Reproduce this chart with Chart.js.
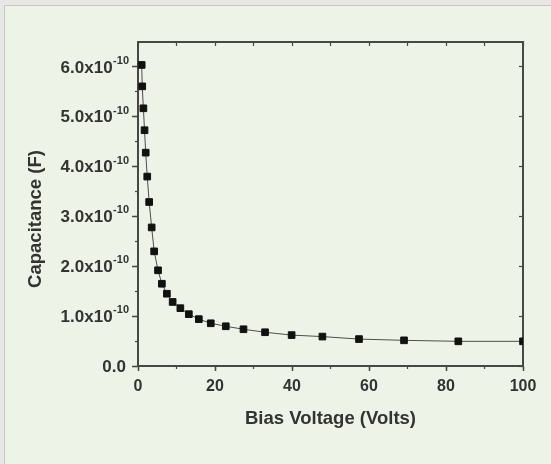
<!DOCTYPE html>
<html>
<head>
<meta charset="utf-8">
<script src="https://cdn.jsdelivr.net/npm/chart.js@4/dist/chart.umd.min.js"></script>
<style>
  html, body { margin: 0; padding: 0; background: #e7e8e5; overflow: hidden; }
  #panel {
    position: absolute; left: 4px; top: 5px; width: 547px; height: 459px;
    background: #eef3e7; border-left: 1px solid #c6c8c3; border-top: 1px solid #c6c8c3;
  }
  #c { position: absolute; left: 0; top: 0; }
</style>
</head>
<body>
<div id="panel"></div>
<canvas id="c" width="551" height="464"></canvas>
<script>
// Bias voltage (V) and measured capacitance (F)
const biasVoltage = [0.96, 1.1, 1.4, 1.7, 2.0, 2.4, 2.9, 3.55, 4.2, 5.2, 6.2, 7.5, 9.0, 11.0,
  13.2, 15.8, 18.9, 22.8, 27.4, 33.0, 39.9, 47.9, 57.4, 69.1, 83.2, 100];
const capacitance = [6.04e-10, 5.61e-10, 5.17e-10, 4.73e-10, 4.28e-10, 3.80e-10, 3.29e-10,
  2.78e-10, 2.30e-10, 1.92e-10, 1.65e-10, 1.45e-10, 1.285e-10, 1.16e-10, 1.04e-10, 0.94e-10,
  0.857e-10, 0.797e-10, 0.737e-10, 0.677e-10, 0.62e-10, 0.59e-10, 0.54e-10, 0.515e-10,
  0.495e-10, 0.495e-10];

// Axis ticks
const xMajorTicks = [0, 20, 40, 60, 80, 100];
const xMinorTicks = [0, 10, 20, 30, 40, 50, 60, 70, 80, 90, 100];
const yTickValues = [0, 1e-10, 2e-10, 3e-10, 4e-10, 5e-10, 6e-10];
const yMinorTicks = [0, 0.5e-10, 1e-10, 1.5e-10, 2e-10, 2.5e-10, 3e-10, 3.5e-10, 4e-10,
  4.5e-10, 5e-10, 5.5e-10, 6e-10];
const yTickLabels = ['0.0', '1.0x10', '2.0x10', '3.0x10', '4.0x10', '5.0x10', '6.0x10'];
const yTickExponents = ['', '-10', '-10', '-10', '-10', '-10', '-10'];

const FONT = '"Liberation Sans", Arial, Helvetica, sans-serif';
const TEXT = '#333333';
const AXIS = '#474747';
Chart.defaults.font.family = FONT;

const setTicks = list => scale => { scale.ticks = list.map(v => ({ value: v })); };

// Y tick labels with superscript exponent, and the rotated y title
const axisText = {
  id: 'axisText',
  afterDraw(chart) {
    const { ctx, chartArea } = chart;
    const ys = chart.scales.y;
    const right = ys.right - 9;
    ctx.save();
    ctx.fillStyle = TEXT;
    yTickValues.forEach((v, i) => {
      const py = ys.getPixelForValue(v);
      const exp = yTickExponents[i];
      let x = right;
      if (exp) {
        ctx.font = 'bold 11px ' + FONT;
        ctx.textAlign = 'right';
        ctx.textBaseline = 'alphabetic';
        ctx.fillText(exp, x, py - 3);
        x -= ctx.measureText(exp).width + 0.5;
      } else {
        x -= 3;
      }
      ctx.font = 'bold 17px ' + FONT;
      ctx.textAlign = 'right';
      ctx.textBaseline = 'middle';
      ctx.fillText(yTickLabels[i], x, py + 1);
    });
    ctx.translate(36, (chartArea.top + chartArea.bottom) / 2 + 15);
    ctx.rotate(-Math.PI / 2);
    ctx.font = 'bold 18.5px ' + FONT;
    ctx.textAlign = 'center';
    ctx.textBaseline = 'middle';
    ctx.fillText('Capacitance (F)', 0, 0);
    ctx.restore();
  }
};

new Chart(document.getElementById('c'), {
  type: 'line',
  data: {
    datasets: [{
      data: biasVoltage.map((v, i) => ({ x: v, y: capacitance[i] })),
      xAxisID: 'x',
      yAxisID: 'y',
      borderColor: '#4d4d4d',
      borderWidth: 1,
      pointStyle: 'rect',
      pointRadius: 4.7,
      pointBackgroundColor: '#111111',
      pointBorderColor: '#111111',
      pointBorderWidth: 1,
      tension: 0,
      clip: { left: 8, top: 8, right: 0, bottom: 8 }
    }]
  },
  options: {
    responsive: false,
    animation: false,
    events: [],
    layout: { padding: { left: 0, top: 42, right: 28, bottom: 0 } },
    plugins: { legend: { display: false }, tooltip: { enabled: false } },
    scales: {
      x: {
        type: 'linear', position: 'bottom', weight: 1, min: 0, max: 100,
        afterBuildTicks: setTicks(xMajorTicks),
        afterFit: s => { s.height = 98; },
        ticks: { color: TEXT, font: { size: 16, weight: 'bold' }, padding: 6, maxRotation: 0 },
        grid: { drawOnChartArea: false, tickLength: 5, tickWidth: 1.5, tickColor: AXIS },
        border: { color: AXIS, width: 2 },
        title: {
          display: true, text: 'Bias Voltage (Volts)', color: TEXT,
          font: { size: 18.5, weight: 'bold' }, padding: { top: 0, bottom: 34 }
        }
      },
      xMinor: {
        type: 'linear', position: 'bottom', weight: 0, min: 0, max: 100,
        afterBuildTicks: setTicks(xMinorTicks),
        afterFit: s => { s.height = 0; },
        ticks: { display: false },
        grid: { drawOnChartArea: false, tickLength: 3, tickWidth: 1.2, tickColor: AXIS },
        border: { display: false }
      },
      xTop: {
        type: 'linear', position: 'top', min: 0, max: 100,
        afterBuildTicks: setTicks(xMinorTicks),
        afterFit: s => { s.height = 0; },
        ticks: { display: false },
        grid: { drawOnChartArea: false, tickLength: -4, tickWidth: 1.2, tickColor: AXIS },
        border: { color: AXIS, width: 2 }
      },
      y: {
        type: 'linear', position: 'left', weight: 1, min: 0, max: 6.5e-10,
        afterBuildTicks: setTicks(yTickValues),
        afterFit: s => { s.width = 138; },
        ticks: { color: 'rgba(0,0,0,0)', font: { size: 16, weight: 'bold' } },
        grid: { drawOnChartArea: false, tickLength: 6, tickWidth: 1.5, tickColor: AXIS },
        border: { color: AXIS, width: 2 }
      },
      yMinor: {
        type: 'linear', position: 'left', weight: 0, min: 0, max: 6.5e-10,
        afterBuildTicks: setTicks(yMinorTicks),
        afterFit: s => { s.width = 0; },
        ticks: { display: false },
        grid: { drawOnChartArea: false, tickLength: 3, tickWidth: 1.2, tickColor: AXIS },
        border: { display: false }
      },
      yRight: {
        type: 'linear', position: 'right', min: 0, max: 6.5e-10,
        afterBuildTicks: setTicks(yTickValues),
        afterFit: s => { s.width = 0; },
        ticks: { display: false },
        grid: { drawOnChartArea: false, tickLength: -4, tickWidth: 1.2, tickColor: AXIS },
        border: { color: AXIS, width: 2 }
      }
    }
  },
  plugins: [axisText]
});
</script>
</body>
</html>
